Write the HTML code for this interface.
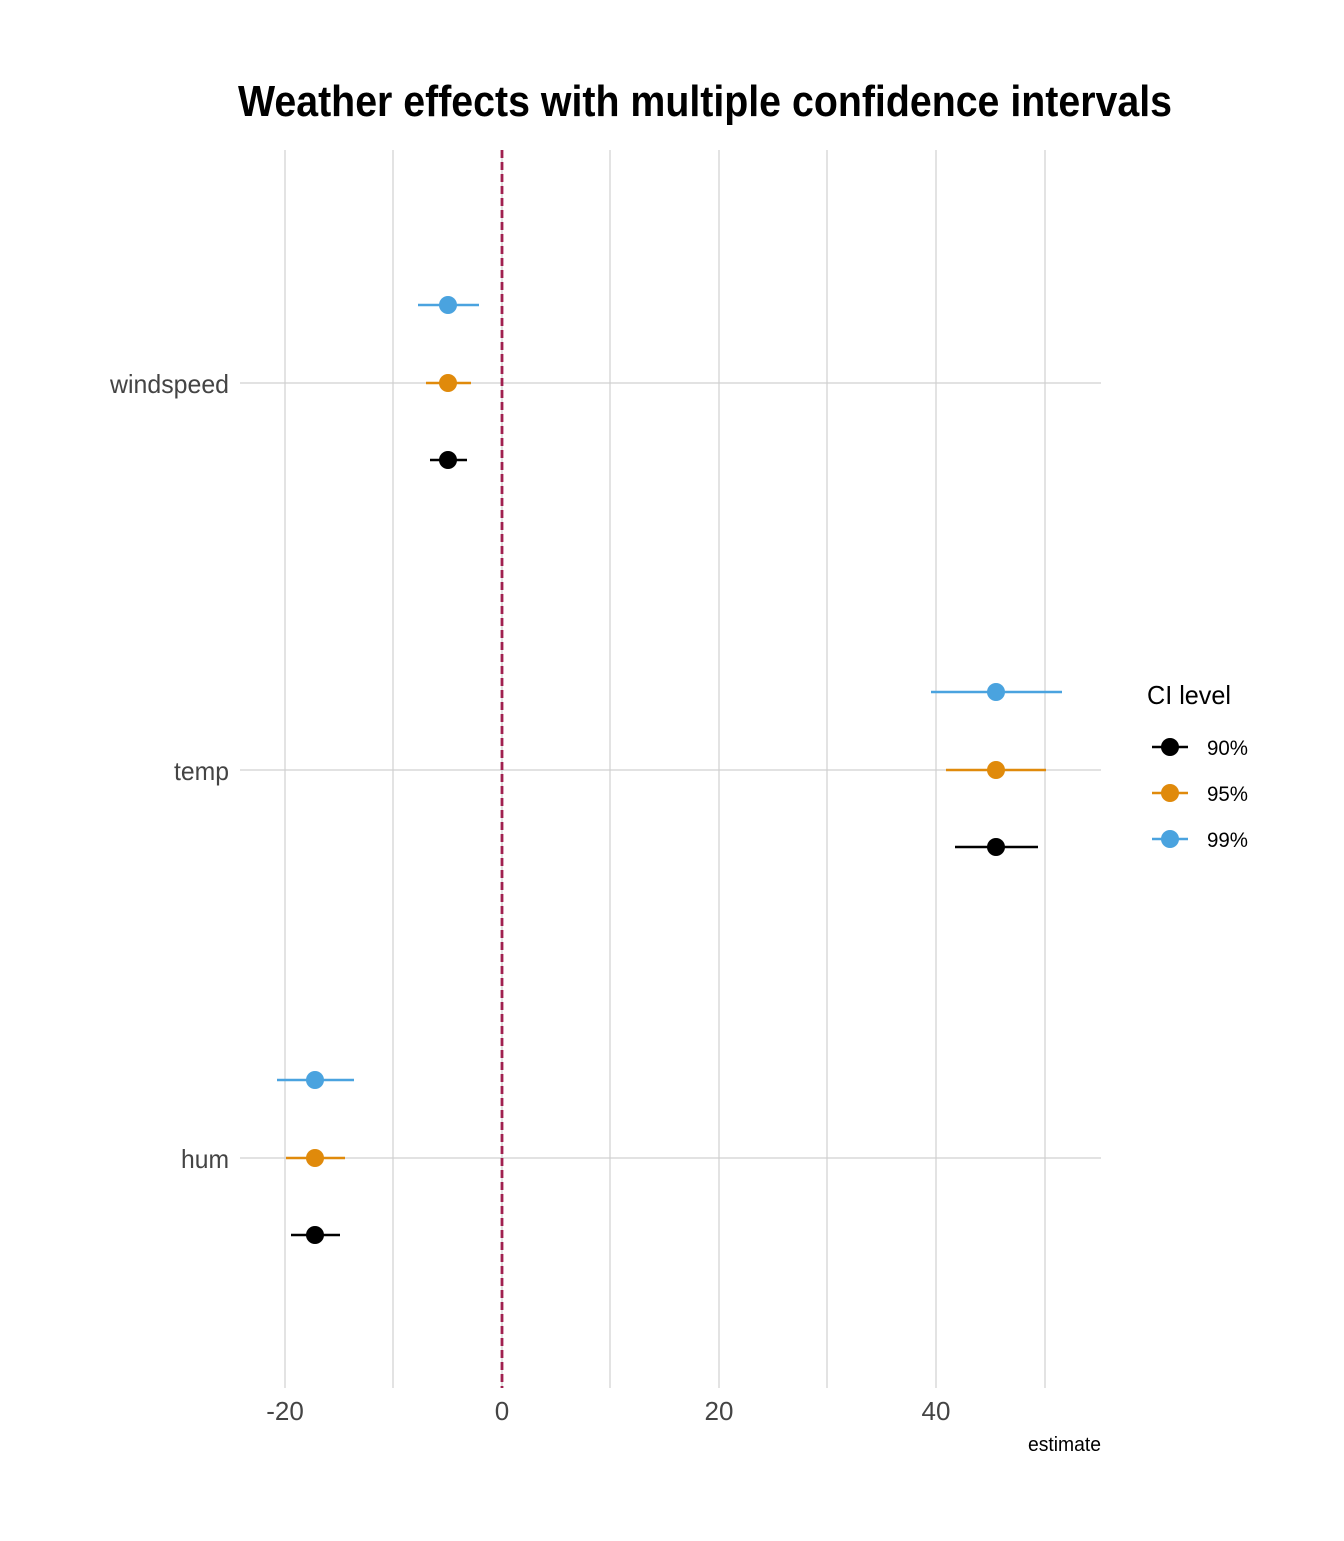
<!DOCTYPE html>
<html><head><style>body{margin:0;background:#fff}</style></head><body>
<svg width="1344" height="1536" xmlns="http://www.w3.org/2000/svg" font-family="'Liberation Sans Narrow','Liberation Sans',sans-serif">
<rect width="1344" height="1536" fill="#fff"/>
<text x="238" y="116" font-size="44" font-weight="bold" fill="#000" textLength="934" lengthAdjust="spacingAndGlyphs">Weather effects with multiple confidence intervals</text>
<g stroke="#d0d0d0" stroke-width="1.2">
<line x1="285" y1="150" x2="285" y2="1388"/><line x1="393" y1="150" x2="393" y2="1388"/>
<line x1="502" y1="150" x2="502" y2="1388"/><line x1="610" y1="150" x2="610" y2="1388"/>
<line x1="719" y1="150" x2="719" y2="1388"/><line x1="827" y1="150" x2="827" y2="1388"/>
<line x1="936" y1="150" x2="936" y2="1388"/><line x1="1045" y1="150" x2="1045" y2="1388"/>
<line x1="240" y1="383" x2="1101" y2="383"/><line x1="240" y1="770" x2="1101" y2="770"/><line x1="240" y1="1158" x2="1101" y2="1158"/>
</g>
<line x1="502" y1="150" x2="502" y2="1388" stroke="#a0204f" stroke-width="2.8" stroke-dasharray="8,4"/>
<g stroke-width="2.5">
<line x1="418" y1="305" x2="479" y2="305" stroke="#4aa3df"/><circle cx="448" cy="305" r="9" fill="#4aa3df"/>
<line x1="426" y1="383" x2="471" y2="383" stroke="#e08a0b"/><circle cx="448" cy="383" r="9" fill="#e08a0b"/>
<line x1="430" y1="460" x2="467" y2="460" stroke="#000"/><circle cx="448" cy="460" r="9" fill="#000"/>
<line x1="931" y1="692" x2="1062" y2="692" stroke="#4aa3df"/><circle cx="996" cy="692" r="9" fill="#4aa3df"/>
<line x1="946" y1="770" x2="1046" y2="770" stroke="#e08a0b"/><circle cx="996" cy="770" r="9" fill="#e08a0b"/>
<line x1="955" y1="847" x2="1038" y2="847" stroke="#000"/><circle cx="996" cy="847" r="9" fill="#000"/>
<line x1="277" y1="1080" x2="354" y2="1080" stroke="#4aa3df"/><circle cx="315" cy="1080" r="9" fill="#4aa3df"/>
<line x1="286" y1="1158" x2="345" y2="1158" stroke="#e08a0b"/><circle cx="315" cy="1158" r="9" fill="#e08a0b"/>
<line x1="291" y1="1235" x2="340" y2="1235" stroke="#000"/><circle cx="315" cy="1235" r="9" fill="#000"/>
</g>
<g font-size="26" fill="#444">
<text x="110" y="393" textLength="119" lengthAdjust="spacingAndGlyphs">windspeed</text>
<text x="174" y="780" textLength="55" lengthAdjust="spacingAndGlyphs">temp</text>
<text x="181" y="1168" textLength="48" lengthAdjust="spacingAndGlyphs">hum</text>
</g>
<g font-size="26" fill="#444" text-anchor="middle">
<text x="285" y="1420">-20</text><text x="502" y="1420">0</text><text x="719" y="1420">20</text><text x="936" y="1420">40</text>
</g>
<text x="1028" y="1451" font-size="20" fill="#000" textLength="73" lengthAdjust="spacingAndGlyphs">estimate</text>
<text x="1147" y="704" font-size="26" fill="#000" textLength="84" lengthAdjust="spacingAndGlyphs">CI level</text>
<g stroke-width="2.5">
<line x1="1152" y1="747" x2="1188" y2="747" stroke="#000"/><circle cx="1170" cy="747" r="9" fill="#000"/>
<line x1="1152" y1="793" x2="1188" y2="793" stroke="#e08a0b"/><circle cx="1170" cy="793" r="9" fill="#e08a0b"/>
<line x1="1152" y1="839" x2="1188" y2="839" stroke="#4aa3df"/><circle cx="1170" cy="839" r="9" fill="#4aa3df"/>
</g>
<g font-size="21" fill="#000">
<text x="1207" y="755" textLength="41" lengthAdjust="spacingAndGlyphs">90%</text>
<text x="1207" y="801" textLength="41" lengthAdjust="spacingAndGlyphs">95%</text>
<text x="1207" y="847" textLength="41" lengthAdjust="spacingAndGlyphs">99%</text>
</g>
</svg>
</body></html>
